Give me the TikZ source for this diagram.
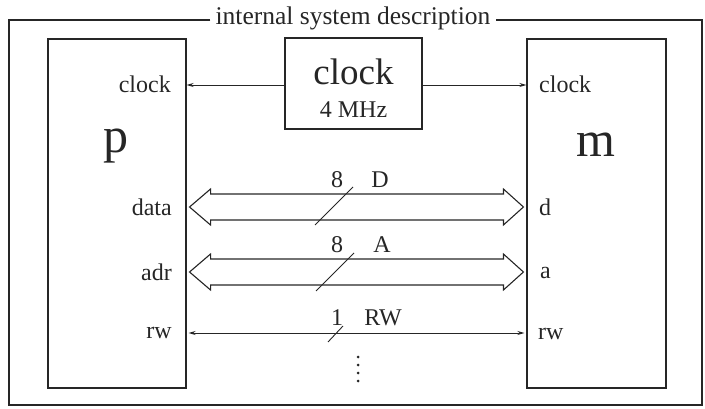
\documentclass[tikz,border=0pt]{standalone}
\usepackage{fontspec}
\setmainfont{Liberation Serif}
\usetikzlibrary{arrows.meta,calc}
\newcommand\drawbus[2]{%
  \draw[ink] (#1) -- ($(#1)+(21,-18)$) -- ($(#1)+(21,-13)$) -- ($(#2)+(-20,-13)$)
    -- ($(#2)+(-20,-18)$) -- (#2) -- ($(#2)+(-20,18)$) -- ($(#2)+(-20,13)$)
    -- ($(#1)+(21,13)$) -- ($(#1)+(21,18)$) -- cycle;}
\begin{document}
\begin{tikzpicture}[x=1pt,y=-1pt,
  ink/.style={draw=black!85, line width=1.1pt},
  box/.style={ink, rectangle, inner sep=0},
  lbl/.style={font=\fontsize{24}{28}\selectfont, text=black!85, inner sep=0},
  big/.style={font=\fontsize{50}{54}\selectfont, text=black!85, inner sep=0},
  sig/.style={draw=black!85, line width=0.9pt},
  tipr/.style={-{Stealth[length=7pt,width=4pt]}},
]
\useasboundingbox (0,0) rectangle (705,409);
% frame title
\node[lbl, font=\fontsize{25.5}{29}\selectfont] (title) at (353,18) {internal system description};
\draw[ink] ([xshift=-5pt]title.west |- 0,20) -- (9,20) -- (9,405) -- (702,405) -- (702,20) -- ([xshift=5pt]title.east |- 0,20);
% boxes
\node[box, minimum width=138pt, minimum height=349pt] (p) at (117,213.5) {};
\node[box, minimum width=139pt, minimum height=349pt] (m) at (596.5,213.5) {};
\node[box, minimum width=137pt, minimum height=91pt] (clockbox) at (353.5,83.5) {};
\node[lbl, font=\fontsize{37}{42}\selectfont] (clk) at (353.5,72) {clock};
\node[lbl, font=\fontsize{24}{28}\selectfont] (freq) at (353.5,110) {4 MHz};
% big letters
\node[big] (pl) at (116,146) {p};
\node[big] (ml) at (596,145) {m};
% p side labels
\node[lbl, anchor=base east] (pclock) at (171,93) {clock};
\node[lbl, anchor=base east] (pdata) at (172,216) {data};
\node[lbl, anchor=base east] (padr) at (172,280) {adr};
\node[lbl, anchor=base east] (prw) at (172,338) {rw};
% m side labels
\node[lbl, anchor=base west] (mclock) at (539,93) {clock};
\node[lbl, anchor=base west] (md) at (539,215) {d};
\node[lbl, anchor=base west] (ma) at (540,279) {a};
\node[lbl, anchor=base west] (mrw) at (538,339) {rw};
% clock arrows
\draw[sig,tipr] (clockbox.west |- 0,85) -- (p.east |- 0,85);
\draw[sig,tipr] (clockbox.east |- 0,85) -- (m.west |- 0,85);
% buses
\path (p.east |- 0,207) ++(3,0) coordinate (dL);
\path (m.west |- 0,207) ++(-3,0) coordinate (dR);
\path (p.east |- 0,272) ++(3,0) coordinate (aL);
\path (m.west |- 0,272) ++(-3,0) coordinate (aR);
\drawbus{dL}{dR}
\drawbus{aL}{aR}
\draw[sig] (315,225) -- (353,187);
\draw[sig] (316,291) -- (354,253);
\node[lbl, anchor=base] (d8) at (337,188) {8};
\node[lbl, anchor=base] (dD) at (380,188) {D};
\node[lbl, anchor=base] (a8) at (337,253) {8};
\node[lbl, anchor=base] (aA) at (382,253) {A};
% rw
\draw[sig,{Stealth[length=7pt,width=4pt]}-{Stealth[length=7pt,width=4pt]}] ([xshift=2pt]p.east |- 0,333) -- ([xshift=-2pt]m.west |- 0,333);
\draw[sig] (328,342) -- (343,326);
\node[lbl, anchor=base] (r1) at (337,325) {1};
\node[lbl, anchor=base] (rRW) at (383,325) {RW};
% dots
\foreach \yy in {357,365,373,381} \fill[black!85] (358,\yy) circle (1.5pt);
\end{tikzpicture}
\end{document}
